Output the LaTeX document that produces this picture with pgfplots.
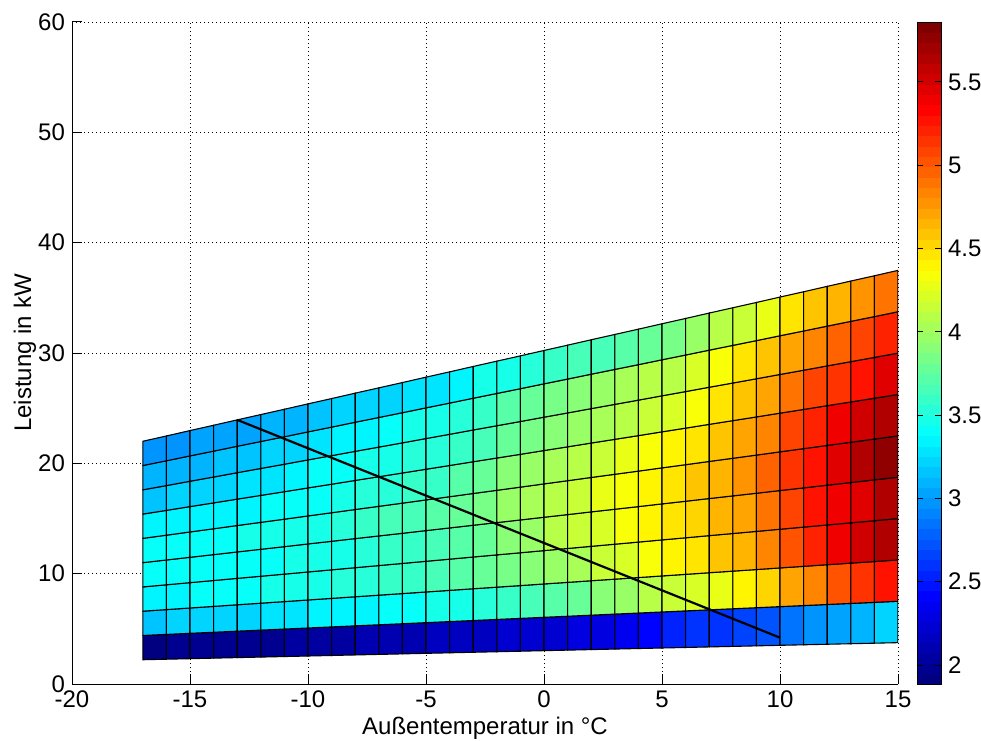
\documentclass[border=0pt]{standalone}
\usepackage{fontspec}
\setmainfont{Liberation Sans}
\usepackage{pgfplots}
\pgfplotsset{compat=1.18}
\pgfplotsset{
  /pgf/number format/assume math mode=true,
  tick label style={font=\fontsize{12}{14}\selectfont},
  label style={font=\fontsize{12}{14}\selectfont},
}
\begin{document}
\begin{tikzpicture}
\begin{axis}[
  name=main,
  scale only axis, width=413pt, height=331pt,
  xmin=-20, xmax=15, ymin=0, ymax=60,
  xtick={-20,-15,...,15}, ytick={0,10,...,60},
  axis lines*=left,
  axis line style={black, line width=0.5pt},
  tick align=inside, major tick length=5pt,
  tick style={black, line width=0.5pt},
  grid=major,
  major grid style={black, line width=0.4pt, dash pattern=on 0.6pt off 1.4pt},
  xlabel={Außentemperatur in °C},
  ylabel={Leistung in kW},
  xlabel style={at={(axis description cs:0.5,-0.0665)}, anchor=center},
  ylabel style={at={(axis description cs:-0.0569,0.5)}, anchor=center},
  colormap/jet,
  colormap={mjet}{samples of colormap=(64 of jet)},
  colormap access=piecewise constant,
  point meta min=1.886, point meta max=5.86,
  colorbar,
  colorbar shift/.style={},
  colorbar style={
    at={(parent axis.north east)}, anchor=north west, xshift=9.5pt,
    width=12pt,
    ytick={2,2.5,3,3.5,4,4.5,5,5.5},
    tick align=inside, major tick length=3pt,
    yticklabel style={font=\fontsize{12}{14}\selectfont},
  },
]
\addplot[surf, shader=flat corner, draw=black, line width=0.55pt, point meta=explicit] coordinates {
(-17,2.200)[1.94] (-16,2.248)[1.95] (-15,2.297)[1.96] (-14,2.345)[1.98] (-13,2.394)[1.99] (-12,2.442)[2.01] (-11,2.490)[2.02] (-10,2.539)[2.04] (-9,2.587)[2.06] (-8,2.636)[2.08] (-7,2.684)[2.10] (-6,2.732)[2.12] (-5,2.781)[2.14] (-4,2.829)[2.16] (-3,2.878)[2.18] (-2,2.926)[2.20] (-1,2.974)[2.22]
(0,3.023)[2.25] (1,3.071)[2.28] (2,3.120)[2.31] (3,3.168)[2.35] (4,3.216)[2.42] (5,3.265)[2.52] (6,3.313)[2.58] (7,3.362)[2.63] (8,3.410)[2.67] (9,3.458)[2.74] (10,3.507)[2.87] (11,3.555)[2.95] (12,3.604)[3.03] (13,3.652)[3.12] (14,3.700)[3.21] (15,3.749)[3.21]

(-17,4.400)[3.17] (-16,4.496)[3.19] (-15,4.594)[3.21] (-14,4.690)[3.23] (-13,4.788)[3.25] (-12,4.884)[3.27] (-11,4.980)[3.30] (-10,5.078)[3.32] (-9,5.174)[3.34] (-8,5.272)[3.36] (-7,5.368)[3.39] (-6,5.464)[3.42] (-5,5.562)[3.46] (-4,5.658)[3.50] (-3,5.756)[3.55] (-2,5.852)[3.61] (-1,5.948)[3.67]
(0,6.046)[3.74] (1,6.142)[3.81] (2,6.240)[3.89] (3,6.336)[3.98] (4,6.432)[4.07] (5,6.530)[4.16] (6,6.626)[4.22] (7,6.724)[4.30] (8,6.820)[4.43] (9,6.916)[4.55] (10,7.014)[4.72] (11,7.110)[4.82] (12,7.208)[5.00] (13,7.304)[5.13] (14,7.400)[5.25] (15,7.498)[5.25]

(-17,6.600)[3.34] (-16,6.744)[3.36] (-15,6.891)[3.38] (-14,7.035)[3.40] (-13,7.182)[3.42] (-12,7.326)[3.44] (-11,7.470)[3.46] (-10,7.617)[3.48] (-9,7.761)[3.51] (-8,7.908)[3.54] (-7,8.052)[3.58] (-6,8.196)[3.62] (-5,8.343)[3.67] (-4,8.487)[3.72] (-3,8.634)[3.79] (-2,8.778)[3.86] (-1,8.922)[3.92]
(0,9.069)[3.98] (1,9.213)[4.05] (2,9.360)[4.13] (3,9.504)[4.22] (4,9.648)[4.31] (5,9.795)[4.39] (6,9.939)[4.49] (7,10.086)[4.59] (8,10.230)[4.66] (9,10.374)[4.82] (10,10.521)[5.02] (11,10.665)[5.21] (12,10.812)[5.38] (13,10.956)[5.52] (14,11.100)[5.64] (15,11.247)[5.64]

(-17,8.800)[3.38] (-16,8.992)[3.39] (-15,9.188)[3.40] (-14,9.380)[3.41] (-13,9.576)[3.42] (-12,9.768)[3.43] (-11,9.960)[3.44] (-10,10.156)[3.45] (-9,10.348)[3.49] (-8,10.544)[3.53] (-7,10.736)[3.57] (-6,10.928)[3.61] (-5,11.124)[3.67] (-4,11.316)[3.73] (-3,11.512)[3.81] (-2,11.704)[3.89] (-1,11.896)[3.98]
(0,12.092)[4.06] (1,12.284)[4.14] (2,12.480)[4.23] (3,12.672)[4.32] (4,12.864)[4.40] (5,13.060)[4.45] (6,13.252)[4.55] (7,13.448)[4.64] (8,13.640)[4.74] (9,13.832)[4.90] (10,14.028)[5.09] (11,14.220)[5.25] (12,14.416)[5.40] (13,14.608)[5.48] (14,14.800)[5.62] (15,14.996)[5.62]

(-17,11.000)[3.40] (-16,11.240)[3.41] (-15,11.485)[3.42] (-14,11.725)[3.43] (-13,11.970)[3.44] (-12,12.210)[3.46] (-11,12.450)[3.47] (-10,12.695)[3.49] (-9,12.935)[3.55] (-8,13.180)[3.61] (-7,13.420)[3.63] (-6,13.660)[3.65] (-5,13.905)[3.70] (-4,14.145)[3.77] (-3,14.390)[3.86] (-2,14.630)[3.97] (-1,14.870)[4.05]
(0,15.115)[4.10] (1,15.355)[4.16] (2,15.600)[4.25] (3,15.840)[4.35] (4,16.080)[4.42] (5,16.325)[4.47] (6,16.565)[4.56] (7,16.810)[4.66] (8,17.050)[4.78] (9,17.290)[4.94] (10,17.535)[5.13] (11,17.775)[5.29] (12,18.020)[5.48] (13,18.260)[5.62] (14,18.500)[5.77] (15,18.745)[5.77]

(-17,13.200)[3.32] (-16,13.488)[3.33] (-15,13.782)[3.34] (-14,14.070)[3.35] (-13,14.364)[3.36] (-12,14.652)[3.38] (-11,14.940)[3.40] (-10,15.234)[3.42] (-9,15.522)[3.47] (-8,15.816)[3.53] (-7,16.104)[3.55] (-6,16.392)[3.57] (-5,16.686)[3.62] (-4,16.974)[3.69] (-3,17.268)[3.79] (-2,17.556)[3.89] (-1,17.844)[3.95]
(0,18.138)[4.00] (1,18.426)[4.08] (2,18.720)[4.17] (3,19.008)[4.27] (4,19.296)[4.35] (5,19.590)[4.41] (6,19.878)[4.49] (7,20.172)[4.59] (8,20.460)[4.68] (9,20.748)[4.82] (10,21.042)[5.06] (11,21.330)[5.21] (12,21.624)[5.42] (13,21.912)[5.52] (14,22.200)[5.62] (15,22.494)[5.62]

(-17,15.400)[3.17] (-16,15.736)[3.19] (-15,16.079)[3.22] (-14,16.415)[3.25] (-13,16.758)[3.28] (-12,17.094)[3.31] (-11,17.430)[3.35] (-10,17.773)[3.38] (-9,18.109)[3.41] (-8,18.452)[3.45] (-7,18.788)[3.48] (-6,19.124)[3.52] (-5,19.467)[3.56] (-4,19.803)[3.62] (-3,20.146)[3.68] (-2,20.482)[3.75] (-1,20.818)[3.82]
(0,21.161)[3.89] (1,21.497)[3.97] (2,21.840)[4.05] (3,22.176)[4.12] (4,22.512)[4.18] (5,22.855)[4.24] (6,23.191)[4.36] (7,23.534)[4.47] (8,23.870)[4.56] (9,24.206)[4.68] (10,24.549)[4.90] (11,24.885)[5.06] (12,25.228)[5.17] (13,25.564)[5.27] (14,25.900)[5.44] (15,26.243)[5.44]

(-17,17.600)[3.07] (-16,17.984)[3.09] (-15,18.376)[3.12] (-14,18.760)[3.15] (-13,19.152)[3.18] (-12,19.536)[3.21] (-11,19.920)[3.25] (-10,20.312)[3.28] (-9,20.696)[3.32] (-8,21.088)[3.36] (-7,21.472)[3.40] (-6,21.856)[3.44] (-5,22.248)[3.49] (-4,22.632)[3.56] (-3,23.024)[3.62] (-2,23.408)[3.69] (-1,23.792)[3.77]
(0,24.184)[3.85] (1,24.568)[3.92] (2,24.960)[3.97] (3,25.344)[4.03] (4,25.728)[4.08] (5,26.120)[4.12] (6,26.504)[4.22] (7,26.896)[4.32] (8,27.280)[4.47] (9,27.664)[4.59] (10,28.056)[4.72] (11,28.440)[4.86] (12,28.832)[4.98] (13,29.216)[5.08] (14,29.600)[5.23] (15,29.992)[5.23]

(-17,19.800)[2.99] (-16,20.232)[2.99] (-15,20.673)[3.01] (-14,21.105)[3.02] (-13,21.546)[3.04] (-12,21.978)[3.07] (-11,22.410)[3.12] (-10,22.851)[3.15] (-9,23.283)[3.19] (-8,23.724)[3.22] (-7,24.156)[3.25] (-6,24.588)[3.27] (-5,25.029)[3.30] (-4,25.461)[3.36] (-3,25.902)[3.44] (-2,26.334)[3.48] (-1,26.766)[3.52]
(0,27.207)[3.58] (1,27.639)[3.63] (2,28.080)[3.68] (3,28.512)[3.73] (4,28.944)[3.79] (5,29.385)[3.87] (6,29.817)[3.98] (7,30.258)[4.08] (8,30.690)[4.18] (9,31.122)[4.29] (10,31.563)[4.49] (11,31.995)[4.56] (12,32.436)[4.66] (13,32.868)[4.80] (14,33.300)[4.90] (15,33.741)[4.90]

(-17,22.000)[2.99] (-16,22.480)[2.99] (-15,22.970)[3.01] (-14,23.450)[3.02] (-13,23.940)[3.04] (-12,24.420)[3.07] (-11,24.900)[3.12] (-10,25.390)[3.15] (-9,25.870)[3.19] (-8,26.360)[3.22] (-7,26.840)[3.25] (-6,27.320)[3.27] (-5,27.810)[3.30] (-4,28.290)[3.36] (-3,28.780)[3.44] (-2,29.260)[3.48] (-1,29.740)[3.52]
(0,30.230)[3.58] (1,30.710)[3.63] (2,31.200)[3.68] (3,31.680)[3.73] (4,32.160)[3.79] (5,32.650)[3.87] (6,33.130)[3.98] (7,33.620)[4.08] (8,34.100)[4.18] (9,34.580)[4.29] (10,35.070)[4.49] (11,35.550)[4.56] (12,36.040)[4.66] (13,36.520)[4.80] (14,37.000)[4.90] (15,37.490)[4.90]
};
\addplot[black, line width=1.1pt] coordinates {(-13,23.94) (10,4.2)};
\end{axis}
\pgfresetboundingbox
\path[use as bounding box] ([xshift=-36pt,yshift=-28pt]main.south west) rectangle ([xshift=41.5pt,yshift=11pt]main.north east);
\end{tikzpicture}
\end{document}
